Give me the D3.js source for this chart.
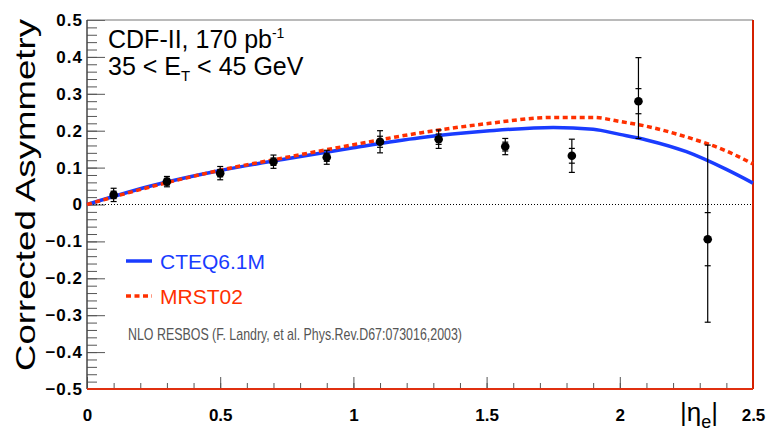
<!DOCTYPE html>
<html>
<head>
<meta charset="utf-8">
<script src="https://cdn.jsdelivr.net/npm/d3@7"></script>
<style>
  body { margin: 0; background: #fff; }
  svg { display: block; }
</style>
</head>
<body>
<div class="chart"></div>
<script>
// measured points (CDF-II, 170 pb^-1, 35 < E_T < 45 GeV)
const etaData = [0.1, 0.3, 0.5, 0.7, 0.9, 1.1, 1.32, 1.57, 1.82, 2.07, 2.33];
const asymData = [0.026, 0.062, 0.085, 0.116, 0.128, 0.170, 0.177, 0.157, 0.132, 0.280, -0.094];
const statErr = [0.010, 0.009, 0.010, 0.010, 0.011, 0.015, 0.014, 0.012, 0.020, 0.034, 0.072];
const totErrHi = [0.018, 0.014, 0.018, 0.018, 0.019, 0.030, 0.025, 0.022, 0.045, 0.118, 0.255];
const totErrLo = [0.018, 0.014, 0.018, 0.018, 0.019, 0.030, 0.025, 0.022, 0.045, 0.101, 0.225];

// NLO RESBOS predictions
const etaTheory = [0, 0.25, 0.5, 0.75, 1.0, 1.25, 1.5, 1.75, 1.9, 2.0, 2.1, 2.25, 2.4, 2.5];
const cteq = [0, 0.052, 0.092, 0.124, 0.154, 0.181, 0.199, 0.209, 0.204, 0.190, 0.175, 0.143, 0.095, 0.058];
const mrst = [0, 0.050, 0.093, 0.128, 0.162, 0.194, 0.219, 0.236, 0.236, 0.225, 0.212, 0.183, 0.145, 0.110];

const xTicks = [0, 0.5, 1, 1.5, 2, 2.5];
const yTicks = [-0.5, -0.4, -0.3, -0.2, -0.1, 0, 0.1, 0.2, 0.3, 0.4, 0.5];

const margin = {top: 20, right: 13, bottom: 55, left: 87};
const W = 766, H = 444;
const width = W - margin.left - margin.right;
const height = H - margin.top - margin.bottom;

const blue = '#1a3cff';
const red = '#ff3000';

let svg = d3.select('.chart')
    .append('svg')
    .attr('width', W)
    .attr('height', H);

const g = svg.append('g')
    .attr('transform', 'translate(' + margin.left + ',' + margin.top + ')');

const xScale = d3.scaleLinear().domain([0, 2.5]).range([0, width]);
const yScale = d3.scaleLinear().domain([-0.5, 0.5]).range([height, 0]);

// minor ticks
const xMinor = d3.range(0, 2.501, 0.1).map(d => +d.toFixed(2));
const yMinor = d3.range(-0.5, 0.501, 0.02).map(d => +d.toFixed(2));

g.append('g')
    .attr('class', 'x-minor')
    .attr('transform', `translate(0, ${height})`)
    .call(d3.axisTop(xScale).tickValues(xMinor).tickSize(6).tickFormat(''))
    .call(a => a.select('.domain').remove())
    .call(a => a.selectAll('line').attr('stroke', '#555'));

g.append('g')
    .attr('class', 'y-minor')
    .call(d3.axisRight(yScale).tickValues(yMinor).tickSize(10).tickFormat(''))
    .call(a => a.select('.domain').remove())
    .call(a => a.selectAll('line').attr('stroke', '#555'));

// major ticks and labels
const x_axis = g.append('g')
    .attr('transform', `translate(0, ${height})`)
    .call(d3.axisTop(xScale).tickValues(xTicks).tickSize(12).tickFormat(d3.format('')))
    .call(a => a.select('.domain').remove());
x_axis.selectAll('line').attr('stroke', '#555');
x_axis.selectAll('text')
    .attr('y', 20)
    .attr('dy', '0.71em')
    .attr('font-family', 'Liberation Sans, Arial, sans-serif')
    .attr('font-weight', 'bold')
    .attr('font-size', 17)
    .attr('fill', '#000');

const y_axis = g.append('g')
    .call(d3.axisRight(yScale).tickValues(yTicks).tickSize(18).tickFormat(d3.format('')))
    .call(a => a.select('.domain').remove());
y_axis.selectAll('line').attr('stroke', '#555');
y_axis.selectAll('text')
    .attr('x', -4)
    .attr('text-anchor', 'end')
    .attr('font-family', 'Liberation Sans, Arial, sans-serif')
    .attr('font-weight', 'bold')
    .attr('font-size', 17)
    .attr('letter-spacing', 1)
    .attr('fill', '#000');

// frame
g.append('line').attr('x1', 0).attr('x2', width).attr('y1', 0).attr('y2', 0)
    .attr('stroke', '#777').attr('stroke-width', 1.2);
g.append('line').attr('x1', 0).attr('x2', 0).attr('y1', 0).attr('y2', height)
    .attr('stroke', '#444').attr('stroke-width', 1.5);
g.append('line').attr('x1', width).attr('x2', width).attr('y1', 0).attr('y2', height)
    .attr('stroke', '#d42000').attr('stroke-width', 2);
g.append('line').attr('x1', 0).attr('x2', width).attr('y1', height).attr('y2', height)
    .attr('stroke', '#e03010').attr('stroke-width', 2);

// zero line
g.append('line')
    .attr('x1', 0).attr('x2', width)
    .attr('y1', yScale(0)).attr('y2', yScale(0))
    .attr('stroke', '#000')
    .attr('stroke-width', 1)
    .attr('stroke-dasharray', '1,2');

// theory curves
const line = d3.line()
    .x(d => xScale(d[0]))
    .y(d => yScale(d[1]))
    .curve(d3.curveMonotoneX);

g.append('path')
    .datum(etaTheory.map((e, i) => [e, cteq[i]]))
    .attr('d', line)
    .attr('fill', 'none')
    .attr('stroke', blue)
    .attr('stroke-width', 3.5);

g.append('path')
    .datum(etaTheory.map((e, i) => [e, mrst[i]]))
    .attr('d', line)
    .attr('fill', 'none')
    .attr('stroke', red)
    .attr('stroke-width', 3.5)
    .attr('stroke-dasharray', '5,3.5');

// data points
const points = etaData.map((e, i) => ({
    eta: e, a: asymData[i], stat: statErr[i], hi: totErrHi[i], lo: totErrLo[i]
}));

const pts = g.selectAll('.pt')
    .data(points)
    .enter()
    .append('g')
    .attr('class', 'pt');

pts.append('line')
    .attr('x1', d => xScale(d.eta)).attr('x2', d => xScale(d.eta))
    .attr('y1', d => yScale(d.a + d.hi)).attr('y2', d => yScale(d.a - d.lo))
    .attr('stroke', '#000').attr('stroke-width', 1.2);

const caps = [
    d => d.a + d.hi, d => d.a - d.lo,
    d => d.a + d.stat, d => d.a - d.stat
];
caps.forEach(f => {
    pts.append('line')
        .attr('x1', d => xScale(d.eta) - 3).attr('x2', d => xScale(d.eta) + 3)
        .attr('y1', d => yScale(f(d))).attr('y2', d => yScale(f(d)))
        .attr('stroke', '#000').attr('stroke-width', 1.2);
});

pts.append('circle')
    .attr('cx', d => xScale(d.eta))
    .attr('cy', d => yScale(d.a))
    .attr('r', 4.3)
    .attr('fill', '#000');

// labels
svg.append('text')
    .attr('x', 108).attr('y', 48)
    .attr('font-family', 'Liberation Sans Narrow, Arial Narrow, sans-serif')
    .attr('font-size', 25)
    .text('CDF-II, 170 pb')
    .append('tspan')
    .attr('dy', -10).attr('font-size', 14)
    .text('-1');

const et = svg.append('text')
    .attr('x', 108).attr('y', 75)
    .attr('font-family', 'Liberation Sans Narrow, Arial Narrow, sans-serif')
    .attr('font-size', 25);
et.append('tspan').text('35 < E');
et.append('tspan').attr('dy', 6).attr('font-size', 15).text('T');
et.append('tspan').attr('dy', -6).text(' < 45 GeV');

svg.append('text')
    .attr('transform', 'translate(35, 195) rotate(-90)')
    .attr('text-anchor', 'middle')
    .attr('font-family', 'Liberation Sans, Arial, sans-serif')
    .attr('font-size', 28)
    .attr('textLength', 352)
    .attr('lengthAdjust', 'spacingAndGlyphs')
    .text('Corrected Asymmetry');

const xt = svg.append('text')
    .attr('x', 718).attr('y', 421)
    .attr('text-anchor', 'end')
    .attr('font-family', 'Liberation Sans, Arial, sans-serif')
    .attr('font-size', 26);
xt.append('tspan').text('|η');
xt.append('tspan').attr('dy', 7).attr('font-size', 18).text('e');
xt.append('tspan').attr('dy', -7).text('|');

// legend
svg.append('line')
    .attr('x1', 126).attr('x2', 152).attr('y1', 261).attr('y2', 261)
    .attr('stroke', blue).attr('stroke-width', 3.5);
svg.append('text')
    .attr('x', 160).attr('y', 269)
    .attr('font-family', 'Liberation Sans, Arial, sans-serif')
    .attr('font-size', 21)
    .attr('fill', blue)
    .text('CTEQ6.1M');

svg.append('line')
    .attr('x1', 126).attr('x2', 152).attr('y1', 296).attr('y2', 296)
    .attr('stroke', red).attr('stroke-width', 3.5)
    .attr('stroke-dasharray', '5,3.5');
svg.append('text')
    .attr('x', 160).attr('y', 304)
    .attr('font-family', 'Liberation Sans, Arial, sans-serif')
    .attr('font-size', 21)
    .attr('fill', red)
    .text('MRST02');

svg.append('text')
    .attr('x', 128).attr('y', 340)
    .attr('font-family', 'Liberation Sans Narrow, Arial Narrow, sans-serif')
    .attr('font-size', 17)
    .attr('fill', '#555')
    .attr('textLength', 334)
    .attr('lengthAdjust', 'spacingAndGlyphs')
    .text('NLO RESBOS (F. Landry, et al. Phys.Rev.D67:073016,2003)');
</script>
</body>
</html>
